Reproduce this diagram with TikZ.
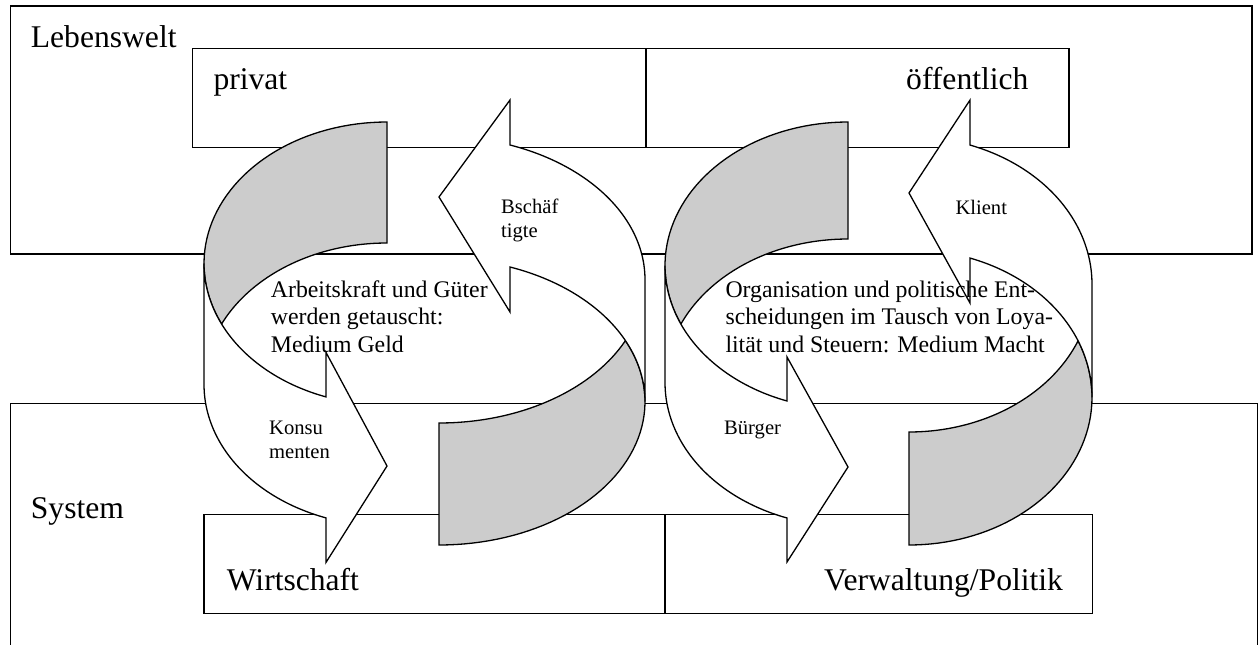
\documentclass[tikz,border=0pt]{standalone}
\usepackage{fontspec}
\setmainfont{Liberation Serif}
\definecolor{shade}{RGB}{204,204,204}

% Curved ribbon arrow: band of two equal ellipses (radii w, hR), shaded back part.
% #1 R (x of the tip side)  #2 T (y of the outer end)  #3 s (+1 / -1 orientation)
% #4 w  #5 hR  #6 th (band thickness)  #7 ah (head length)  #8 dh (barb overhang)
% #9 tip offset from T
\newcommand{\ribbonarrow}[9]{%
  \pgfmathsetmacro\cvR{#1}\pgfmathsetmacro\cvT{#2}\pgfmathsetmacro\cvS{#3}%
  \pgfmathsetmacro\cvW{#4}\pgfmathsetmacro\cvH{#5}\pgfmathsetmacro\cvTh{#6}%
  \pgfmathsetmacro\cvAh{#7}\pgfmathsetmacro\cvDh{#8}\pgfmathsetmacro\cvTip{#9}%
  \pgfmathsetmacro\cvA{180-acos(\cvAh/\cvW)}%
  \pgfmathsetmacro\cvMa{\cvH*(1+sin(\cvA))}%
  \pgfmathsetmacro\cvP{asin(\cvTh/(2*\cvH))}%
  \pgfmathsetmacro\cvPa{180-\cvP}%
  \pgfmathsetmacro\cvPb{180+\cvP}%
  % shaded back of the ribbon
  \filldraw[backside]
    plot[domain=\cvPa:270, samples=50] ({\cvR+\cvS*\cvW*cos(\x)},{\cvT+\cvS*\cvH*(1+sin(\x))})
    -- ({\cvR},{\cvT+\cvS*\cvTh})
    -- plot[domain=270:\cvPb, samples=50] ({\cvR+\cvS*\cvW*cos(\x)},{\cvT+\cvS*(\cvTh+\cvH*(1+sin(\x)))})
    -- cycle;
  % front of the ribbon with its arrow head
  \filldraw[band] ({\cvR-\cvS*\cvW},{\cvT+\cvS*\cvH})
    -- plot[domain=180:\cvA, samples=50] ({\cvR+\cvS*\cvW*cos(\x)},{\cvT+\cvS*\cvH*(1+sin(\x))})
    -- ({\cvR-\cvS*\cvAh},{\cvT+\cvS*(\cvMa-\cvDh)})
    -- ({\cvR},{\cvT+\cvS*\cvTip})
    -- ({\cvR-\cvS*\cvAh},{\cvT+\cvS*(\cvTh+\cvMa+\cvDh)})
    -- plot[domain=\cvA:180, samples=50] ({\cvR+\cvS*\cvW*cos(\x)},{\cvT+\cvS*(\cvTh+\cvH*(1+sin(\x)))})
    -- cycle;
}

\begin{document}
\begin{tikzpicture}[x=1pt, y=-1pt,
  frame/.style={draw=black, line width=1.2pt},
  band/.style={draw=black, fill=white, line width=1.3pt, line join=miter},
  backside/.style={draw=black, fill=shade, line width=1.3pt},
  big/.style={font=\fontsize{31.6}{36}\selectfont, inner sep=0pt, anchor=base west},
  mid/.style={font=\fontsize{23.8}{27.5}\selectfont, inner sep=0pt, anchor=base west, align=left},
  small/.style={font=\fontsize{20.6}{24.3}\selectfont, inner sep=0pt, anchor=base west, align=left}]

\useasboundingbox (0,0) rectangle (1258,645);

% the two spheres
\draw[frame] (10.7,6) rectangle (1252,254);
\draw[frame] (10.7,645) -- (10.7,403.3) -- (1257.3,403.3) -- (1257.3,645);

% sub-areas
\draw[frame] (192.7,48.3) rectangle (646,147.7);
\draw[frame] (646,48.3) rectangle (1069,147.7);
\draw[frame] (204,514.3) rectangle (665,613.3);
\draw[frame] (665,514.3) rectangle (1092.7,613.3);

% exchange cycles
\ribbonarrow{387}{122}{1}{183}{141.5}{121}{61}{44.5}{344}
\ribbonarrow{439}{545}{-1}{206}{143.4}{122}{71}{45}{348}
\ribbonarrow{848}{122}{1}{183}{143.6}{117}{61}{44}{345}
\ribbonarrow{909}{545}{-1}{183}{147.7}{113}{61}{45}{352}

% labels (multi-line nodes are anchored on the baseline of their last line)
\node[big] (lw) at (30.7,47.3) {Lebenswelt};
\node[big] (pv) at (213.3,89.3) {privat};
\node[big] (of) at (906,89.3) {öffentlich};
\node[big] (sy) at (30.7,518.3) {System};
\node[big] (wi) at (226.7,590) {Wirtschaft};
\node[big] (vp) at (824,590) {Verwaltung/Politik};

\node[mid] (geld) at (270.7,352.3) {Arbeitskraft und Güter\\werden getauscht:\\Medium Geld};
\node[mid] (macht) at (725.3,352.3) {Organisation und politische Ent-\\scheidungen im Tausch von Loya-\\lität und Steuern: Medium Macht};

\node[small] (bs) at (501,237.7) {Bschäf\\tigte};
\node[small] (kl) at (955.3,214) {Klient};
\node[small] (ko) at (269,458.3) {Konsu\\menten};
\node[small] (bu) at (724,434) {Bürger};
\end{tikzpicture}
\end{document}
